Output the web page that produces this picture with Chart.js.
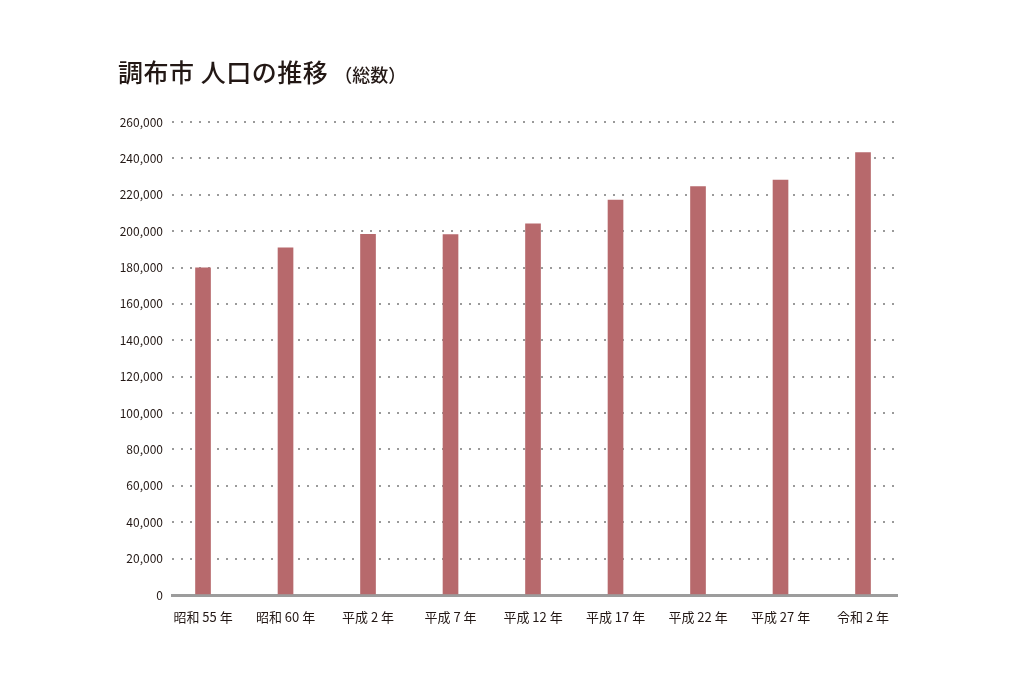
<!DOCTYPE html>
<html>
<head>
<meta charset="utf-8">
<script src="https://cdn.jsdelivr.net/npm/chart.js@4"></script>
<style>
  html, body { margin: 0; padding: 0; background: #fff; }
  #wrap { position: relative; width: 1013px; height: 675px; }
  #title { position: absolute; left: 118px; top: 53px; font-family: "Noto Sans CJK JP", sans-serif;
           font-size: 25px; font-weight: 500; color: #231815; white-space: nowrap; letter-spacing: 0.5px; }
  #title small { font-size: 18px; margin-left: 6px; letter-spacing: 0; }
  #chart { position: absolute; left: 0; top: 0; }
</style>
</head>
<body>
<div id="wrap">
  <canvas id="chart" width="1013" height="675"></canvas>
  <div id="title">調布市 人口の推移<small>（総数）</small></div>
</div>
<script>
// census years along the bottom
const years = ['昭和 55 年', '昭和 60 年', '平成 2 年', '平成 7 年', '平成 12 年',
               '平成 17 年', '平成 22 年', '平成 27 年', '令和 2 年'];
// total population
const population = [179800, 190900, 198300, 198100, 204000, 217100, 224500, 228100, 243200];

const font = { family: '"Noto Sans CJK JP", "Noto Sans", sans-serif', size: 12 };

new Chart(document.getElementById('chart'), {
  type: 'bar',
  data: {
    datasets: [{
      data: population.map((v, i) => ({ x: i, y: v })),
      backgroundColor: '#b7696c',
      barThickness: 15
    }]
  },
  options: {
    responsive: false,
    animation: false,
    layout: { padding: { left: 112, right: 116, top: 122, bottom: 50 } },
    plugins: { legend: { display: false }, tooltip: { enabled: false } },
    scales: {
      x: {
        type: 'linear',
        offset: false,
        min: -0.376,
        max: 8.412,
        afterFit: s => { s.height = 30; },
        grid: { display: false, offset: false },
        border: { color: '#9c9c9c', width: 3 },
        ticks: {
          stepSize: 1,
          includeBounds: false,
          padding: 6,
          color: '#231815',
          font: { family: font.family, size: 13 },
          maxRotation: 0,
          autoSkip: false,
          callback: v => years[v]
        }
      },
      y: {
        min: 0,
        max: 260000,
        afterFit: s => { s.width = 60; },
        border: { display: false, dash: [2, 7] },
        grid: {
          drawTicks: false,
          lineWidth: 2,
          color: ctx => ctx.tick && ctx.tick.value === 0 ? 'rgba(0,0,0,0)' : '#9a9a9a'
        },
        ticks: {
          stepSize: 20000,
          padding: 9,
          color: '#231815',
          font: font,
          callback: v => v.toLocaleString('en-US')
        }
      }
    }
  }
});
</script>
</body>
</html>
